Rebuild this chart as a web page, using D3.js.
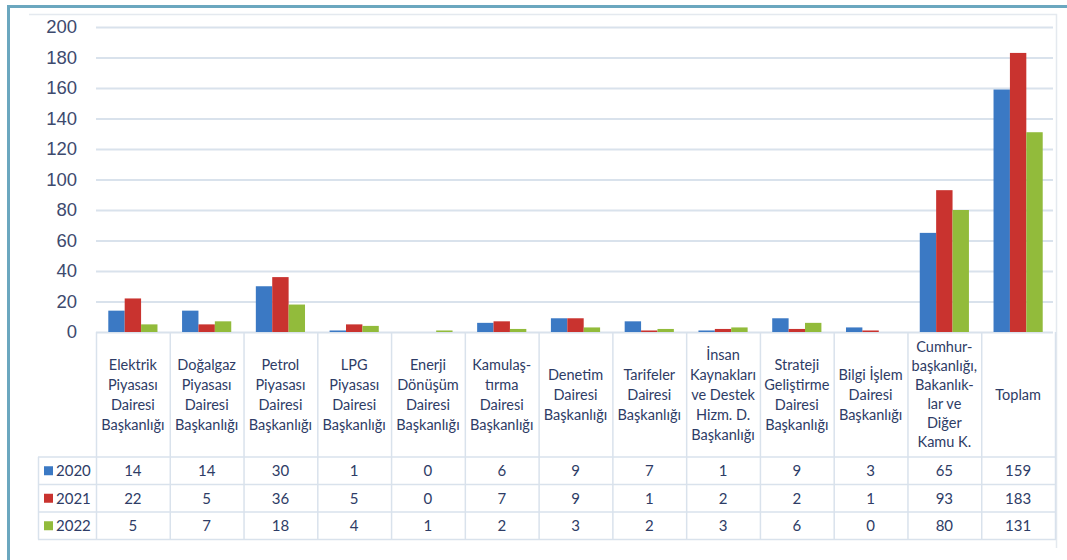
<!doctype html>
<meta charset="utf-8">
<title>Daire Başkanlıkları 2020-2022</title>
<style>
body { margin: 0; background: #fff; }
svg { font-family: Lato, "Open Sans", sans-serif; }
.ylab text { fill: #3d4a6e; font-size: 18.5px; }
.cell { fill: #2e3c66; font-size: 14.5px; }
</style>
<script src="https://cdn.jsdelivr.net/npm/d3@7"></script>
<body>
<svg id="chart" width="1067" height="560"></svg>
<script>
// values
var categories = [
  ["Elektrik", "Piyasası", "Dairesi", "Başkanlığı"],
  ["Doğalgaz", "Piyasası", "Dairesi", "Başkanlığı"],
  ["Petrol", "Piyasası", "Dairesi", "Başkanlığı"],
  ["LPG", "Piyasası", "Dairesi", "Başkanlığı"],
  ["Enerji", "Dönüşüm", "Dairesi", "Başkanlığı"],
  ["Kamulaş-", "tırma", "Dairesi", "Başkanlığı"],
  ["Denetim", "Dairesi", "Başkanlığı"],
  ["Tarifeler", "Dairesi", "Başkanlığı"],
  ["İnsan", "Kaynakları", "ve Destek", "Hizm. D.", "Başkanlığı"],
  ["Strateji", "Geliştirme", "Dairesi", "Başkanlığı"],
  ["Bilgi İşlem", "Dairesi", "Başkanlığı"],
  ["Cumhur-", "başkanlığı,", "Bakanlık-", "lar ve", "Diğer", "Kamu K."],
  ["Toplam"]
];
var years = ["2020", "2021", "2022"];
var v2020 = [14, 14, 30, 1, 0, 6, 9, 7, 1, 9, 3, 65, 159];
var v2021 = [22, 5, 36, 5, 0, 7, 9, 1, 2, 2, 1, 93, 183];
var v2022 = [5, 7, 18, 4, 1, 2, 3, 2, 3, 6, 0, 80, 131];
var yTicks = [0, 20, 40, 60, 80, 100, 120, 140, 160, 180, 200];
var colors = ["#3b79c4", "#c9332f", "#92bb3b"];

var series = [v2020, v2021, v2022];
var svg = d3.select("#chart");
var lineCol = "#d9e2ec";

// outer frame + light chart-area edge (top and right only)
svg.append("path").attr("d", "M8.5,560 V6.5 H1067").attr("fill", "none")
  .attr("stroke", "#6ba7bf").attr("stroke-width", 3);
svg.append("path").attr("d", "M29,14.5 H1056.5 V548").attr("fill", "none")
  .attr("stroke", "#e4e9ef").attr("stroke-width", 1.5);

var x = d3.scaleBand().domain(d3.range(categories.length)).range([96, 1055]);
var xs = d3.scaleBand().domain(d3.range(3)).range([0, x.bandwidth()]).paddingOuter(0.75).paddingInner(0);
var y = d3.scaleLinear().domain([0, 200]).range([332, 27]);

// gridlines
svg.append("g").selectAll("line").data(yTicks).join("line")
  .attr("x1", 96).attr("x2", 1053)
  .attr("y1", d => y(d) + 0.5).attr("y2", d => y(d) + 0.5)
  .attr("stroke", lineCol).attr("stroke-width", 2);

var yAxis = svg.append("g").attr("class", "ylab").attr("transform", "translate(79,0)")
  .call(d3.axisLeft(y).tickValues(yTicks).tickSize(0).tickPadding(2));
yAxis.select(".domain").remove();

// bars
series.forEach(function (vals, s) {
  svg.append("g").selectAll("rect").data(vals).join("rect")
    .attr("x", (d, i) => x(i) + xs(s))
    .attr("width", xs.bandwidth())
    .attr("y", d => y(d))
    .attr("height", d => y(0) - y(d))
    .attr("fill", colors[s]);
});

// data table
var rowTop = [457, 484.5, 512];
var rowH = 27.5;
var tbl = svg.append("g");
tbl.selectAll("line.v").data(d3.range(categories.length + 1)).join("line")
  .attr("x1", i => i < categories.length ? x(i) + 0.5 : 1055.5)
  .attr("x2", i => i < categories.length ? x(i) + 0.5 : 1055.5)
  .attr("y1", 332).attr("y2", 539.5).attr("stroke", lineCol).attr("stroke-width", 1.5);
tbl.append("line").attr("x1", 38.5).attr("x2", 38.5).attr("y1", 457).attr("y2", 539.5)
  .attr("stroke", lineCol).attr("stroke-width", 1.5);
tbl.selectAll("line.h").data([457, 484.5, 512, 539.5]).join("line")
  .attr("x1", 38).attr("x2", 1056).attr("y1", d => d).attr("y2", d => d)
  .attr("stroke", lineCol).attr("stroke-width", 1.5);

// header labels
categories.forEach(function (lines, i) {
  var lh = lines.length > 5 ? 19 : 20;
  var cy = 394.5 - (lines.length - 1) * lh / 2;
  var t = tbl.append("text").attr("class", "cell").attr("text-anchor", "middle");
  lines.forEach(function (ln, k) {
    t.append("tspan").attr("x", x(i) + x.bandwidth() / 2).attr("y", cy + k * lh)
      .attr("dy", "0.35em").text(ln);
  });
});

// rows
years.forEach(function (yr, r) {
  var cy = rowTop[r] + rowH / 2;
  tbl.append("rect").attr("x", 44).attr("y", cy - 4.5).attr("width", 9).attr("height", 9)
    .attr("fill", colors[r]);
  tbl.append("text").attr("class", "cell").attr("x", 56).attr("y", cy).attr("dy", "0.35em")
    .style("font-size", "15px").text(yr);
  tbl.selectAll(null).data(series[r]).join("text").attr("class", "cell")
    .attr("text-anchor", "middle")
    .attr("x", (d, i) => x(i) + x.bandwidth() / 2).attr("y", cy).attr("dy", "0.35em")
    .style("font-size", "15px").text(d => d);
});
</script>
</body>
